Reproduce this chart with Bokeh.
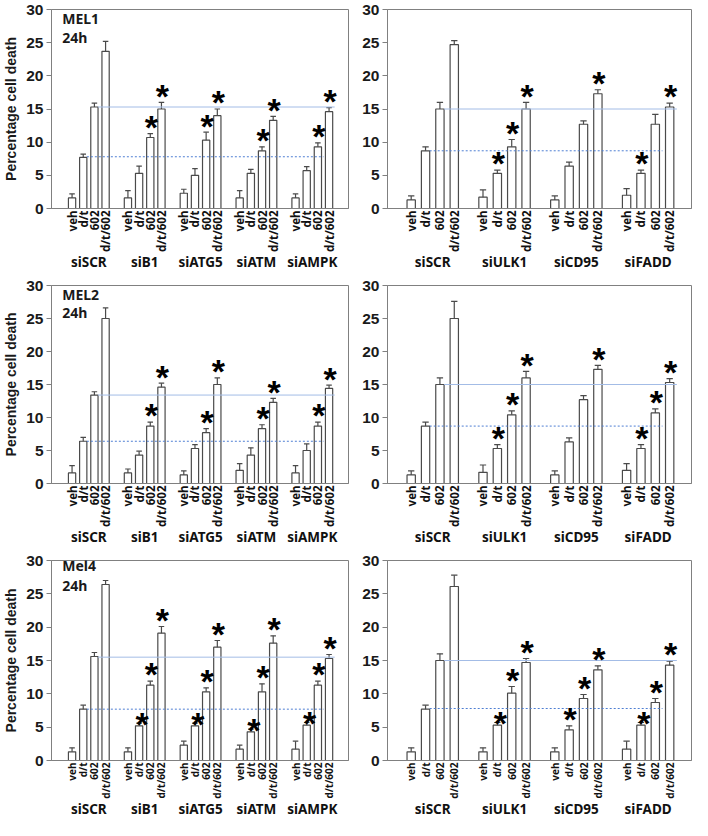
import math
from bokeh.plotting import figure
from bokeh.models import Range1d, FixedTicker, Label, LinearAxis, ColumnDataSource
from bokeh.layouts import row, column
from bokeh.embed import file_html
from bokeh.resources import INLINE
from bokeh.core.properties import value

# ---------------- data ----------------
bar_labels = ["veh", "d/t", "602", "d/t/602"]
groups_left = ["siSCR", "siB1", "siATG5", "siATM", "siAMPK"]
groups_right = ["siSCR", "siULK1", "siCD95", "siFADD"]

# MEL1 24h (left top)
A_vals = [[1.6, 7.7, 15.3, 23.7], [1.6, 5.3, 10.7, 15.0], [2.3, 5.0, 10.3, 14.0],
          [1.6, 5.3, 8.7, 13.3], [1.6, 5.7, 9.3, 14.6]]
A_errs = [[0.6, 0.5, 0.6, 1.5], [1.1, 1.1, 0.6, 1.0], [0.6, 1.0, 1.2, 1.0],
          [1.1, 0.6, 0.6, 0.6], [0.6, 0.6, 0.6, 0.6]]
A_sig = [[0, 0, 0, 0], [0, 0, 1, 1], [0, 0, 1, 1], [0, 0, 1, 1], [0, 0, 1, 1]]
A_ref = [7.8, 15.3]

# right top
B_vals = [[1.3, 8.7, 15.0, 24.7], [1.7, 5.3, 9.3, 15.0], [1.3, 6.4, 12.7, 17.3],
          [2.0, 5.3, 12.7, 15.3]]
B_errs = [[0.6, 0.6, 1.0, 0.6], [1.1, 0.5, 1.1, 1.0], [0.6, 0.6, 0.5, 0.6],
          [1.0, 0.5, 1.5, 0.6]]
B_sig = [[0, 0, 0, 0], [0, 1, 1, 1], [0, 0, 0, 1], [0, 1, 0, 1]]
B_ref = [8.7, 15.0]

# MEL2 24h (left middle)
C_vals = [[1.6, 6.4, 13.4, 25.0], [1.6, 4.3, 8.7, 14.6], [1.3, 5.3, 7.7, 15.0],
          [2.0, 4.3, 8.3, 12.3], [1.6, 5.0, 8.7, 14.4]]
C_errs = [[1.1, 0.6, 0.5, 1.6], [0.6, 0.6, 0.6, 0.6], [0.6, 0.6, 0.6, 1.0],
          [1.0, 1.1, 0.6, 0.6], [1.1, 1.0, 0.6, 0.5]]
C_sig = [[0, 0, 0, 0], [0, 0, 1, 1], [0, 0, 1, 1], [0, 0, 1, 1], [0, 0, 1, 1]]
C_ref = [6.4, 13.4]

# right middle
D_vals = [[1.3, 8.7, 15.0, 25.0], [1.7, 5.3, 10.4, 16.0], [1.3, 6.3, 12.7, 17.3],
          [2.0, 5.3, 10.7, 15.3]]
D_errs = [[0.6, 0.6, 1.0, 2.6], [1.1, 0.6, 0.6, 1.0], [0.6, 0.6, 0.6, 0.6],
          [1.0, 0.6, 0.6, 0.6]]
D_sig = [[0, 0, 0, 0], [0, 1, 1, 1], [0, 0, 0, 1], [0, 1, 1, 1]]
D_ref = [8.7, 15.0]

# Mel4 24h (left bottom)
E_vals = [[1.3, 7.7, 15.6, 26.4], [1.3, 5.2, 11.3, 19.1], [2.3, 5.2, 10.3, 17.0],
          [1.7, 4.3, 10.3, 17.6], [1.7, 5.3, 11.3, 15.3]]
E_errs = [[0.6, 0.6, 0.6, 0.6], [0.6, 0.4, 0.6, 1.0], [0.6, 0.4, 0.6, 1.0],
          [0.6, 0.4, 1.2, 1.1], [1.2, 0.4, 0.6, 0.6]]
E_sig = [[0, 0, 0, 0], [0, 2, 1, 1], [0, 2, 1, 1], [0, 2, 1, 1], [0, 2, 1, 1]]
E_ref = [7.7, 15.5]

# right bottom
F_vals = [[1.3, 7.7, 15.0, 26.1], [1.3, 5.3, 10.1, 14.7], [1.3, 4.6, 9.3, 13.6],
          [1.7, 5.3, 8.7, 14.3]]
F_errs = [[0.6, 0.6, 1.0, 1.7], [0.6, 0.4, 1.0, 0.6], [0.6, 0.6, 0.6, 0.6],
          [1.2, 0.4, 0.6, 0.6]]
F_sig = [[0, 0, 0, 0], [0, 2, 1, 1], [0, 1, 1, 1], [0, 2, 1, 1]]
F_ref = [7.8, 15.0]

y_ticks = [0, 5, 10, 15, 20, 25, 30]

# ---------------- styling ----------------
GRAY = "#808080"
BAR_LINE = "#4a4a4a"
SOLID_BLUE = "#a3bce6"
DOT_BLUE = "#4f7fd3"
TICK_FONT = "Liberation Sans"
LAB_FONT = "Noto Sans"


def make_panel(groups, vals, errs, sig, ref, title, left, width, height,
               b_top, b_bottom, xfont, gstand, title_y=(27.2, 24.4)):
    n = len(groups)
    if left:
        xr = Range1d(-1.84, 24.74)
        bw = 0.65
        bl, br = 48, 4
    else:
        xr = Range1d(-1.65, 19.52)
        bw = 0.58
        bl, br = 35, 1
    p = figure(width=width, height=height, x_range=xr, y_range=Range1d(0, 30),
               output_backend="svg", toolbar_location=None,
               min_border_left=bl, min_border_right=br,
               min_border_top=b_top, min_border_bottom=b_bottom)
    p.xgrid.grid_line_color = None
    p.ygrid.grid_line_color = None
    p.outline_line_color = GRAY
    p.outline_line_width = 1
    p.background_fill_color = "white"
    p.border_fill_color = "white"

    frame_h = height - b_top - b_bottom
    pxu = frame_h / 30.0

    xs, tops, etops, sx, sy, sxo = [], [], [], [], [], []
    ticks, overrides = [], {}
    for g in range(n):
        for i in range(4):
            k = 5 * g + i
            v = vals[g][i]
            e = errs[g][i]
            xs.append(k)
            tops.append(v)
            etops.append(v + e)
            ticks.append(k)
            overrides[k] = bar_labels[i]
            if sig[g][i] == 1:
                sx.append(k)
                sy.append(v + e + 10.0 / pxu)
                sxo.append(1)
            elif sig[g][i] == 2:
                sx.append(k)
                sy.append(v + 5.0 / pxu)
                sxo.append(3)

    src = ColumnDataSource(dict(x=xs, top=tops, etop=etops,
                                xl=[x - bw * 0.38 for x in xs],
                                xr=[x + bw * 0.38 for x in xs]))
    p.vbar(x="x", top="top", bottom=0, width=bw, source=src,
           fill_color="white", line_color=BAR_LINE, line_width=1.2)
    p.segment(x0="x", y0="top", x1="x", y1="etop", source=src,
              line_color=BAR_LINE, line_width=1.2)
    p.segment(x0="xl", y0="etop", x1="xr", y1="etop", source=src,
              line_color=BAR_LINE, line_width=1.2)

    last = 5 * (n - 1) + 3
    # reference lines at the siSCR d/t and 602 levels
    p.line(x=[1 + bw / 2, last - 0.5], y=[ref[0], ref[0]], line_color=DOT_BLUE,
           line_width=1, line_dash="2 2")
    p.line(x=[2 + bw / 2, last + 0.5], y=[ref[1], ref[1]], line_color=SOLID_BLUE,
           line_width=1)

    ssrc = ColumnDataSource(dict(x=sx, y=sy, xo=sxo, t=["*"] * len(sx)))
    p.text(x="x", y="y", text="t", source=ssrc, x_offset="xo",
           y_offset=3, text_align="center", text_baseline="alphabetic",
           text_font=value(TICK_FONT), text_font_style="bold",
           text_font_size="34px", text_color="black")

    # y axis
    yax = p.yaxis[0]
    yax.ticker = FixedTicker(ticks=y_ticks)
    yax.axis_line_color = GRAY
    yax.major_tick_line_color = GRAY
    yax.major_tick_out = 5
    yax.major_tick_in = 0
    yax.minor_tick_line_color = None
    yax.major_label_text_font = TICK_FONT
    yax.major_label_text_font_style = "bold"
    yax.major_label_text_font_size = "15.5px"
    yax.major_label_text_color = "#1a1a1a"
    yax.major_label_standoff = 3
    if left:
        yax.axis_label = "Percentage cell death"
        yax.axis_label_text_font = TICK_FONT
        yax.axis_label_text_font_style = "bold"
        yax.axis_label_text_font_size = "14px"
        yax.axis_label_text_color = "#1a1a1a"
        yax.axis_label_standoff = 4

    # x axis with rotated bar labels
    xax = p.xaxis[0]
    xax.ticker = FixedTicker(ticks=ticks)
    xax.major_label_overrides = overrides
    xax.major_label_orientation = math.pi / 2
    xax.axis_line_color = GRAY
    xax.major_tick_line_color = None
    xax.major_tick_out = 0
    xax.major_tick_in = 0
    xax.minor_tick_line_color = None
    xax.minor_tick_out = 0
    xax.major_label_standoff = 2
    xax.major_label_text_font = LAB_FONT
    xax.major_label_text_font_style = "bold"
    xax.major_label_text_font_size = xfont
    xax.major_label_text_color = "#111111"

    # group labels on a second axis below the rotated labels
    centers = [5 * g + 1.5 for g in range(n)]
    gax = LinearAxis(ticker=FixedTicker(ticks=centers),
                     major_label_overrides={c: groups[g] for g, c in enumerate(centers)})
    gax.axis_line_color = None
    gax.major_tick_line_color = None
    gax.major_tick_out = 0
    gax.major_tick_in = 0
    gax.minor_tick_line_color = None
    gax.minor_tick_out = 0
    gax.major_label_standoff = gstand
    gax.major_label_text_font = LAB_FONT
    gax.major_label_text_font_style = "bold"
    gax.major_label_text_font_size = "13.5px"
    gax.major_label_text_color = "#111111"
    p.add_layout(gax, "below")

    if title:
        p.add_layout(Label(x=-0.88, y=title_y[0], text=title[0], text_font=LAB_FONT,
                           text_font_style="bold", text_font_size="14px",
                           text_color="#1a1a1a"))
        p.add_layout(Label(x=-0.88, y=title_y[1], text=title[1], text_font=LAB_FONT,
                           text_font_style="bold", text_font_size="14px",
                           text_color="#1a1a1a"))
    return p


pa = make_panel(groups_left, A_vals, A_errs, A_sig, A_ref, ["MEL1", "24h"], True,
                352, 273, 6, 62, "11.5px", -3)
pb = make_panel(groups_right, B_vals, B_errs, B_sig, B_ref, None, False,
                340, 273, 9, 59, "11.5px", -3)
pc = make_panel(groups_left, C_vals, C_errs, C_sig, C_ref, ["MEL2", "24h"], True,
                352, 275, 9, 61, "11.5px", -3)
pd = make_panel(groups_right, D_vals, D_errs, D_sig, D_ref, None, False,
                340, 275, 12, 58, "11.5px", -3)
pe = make_panel(groups_left, E_vals, E_errs, E_sig, E_ref, ["Mel4", "24h"], True,
                352, 272, 10, 58, "10px", -2, title_y=(27.8, 24.8))
pf = make_panel(groups_right, F_vals, F_errs, F_sig, F_ref, None, False,
                340, 272, 12, 56, "10px", -2)

layout = column(row(pa, pb), row(pc, pd), row(pe, pf))
open("out.html", "w").write(file_html(layout, INLINE))
